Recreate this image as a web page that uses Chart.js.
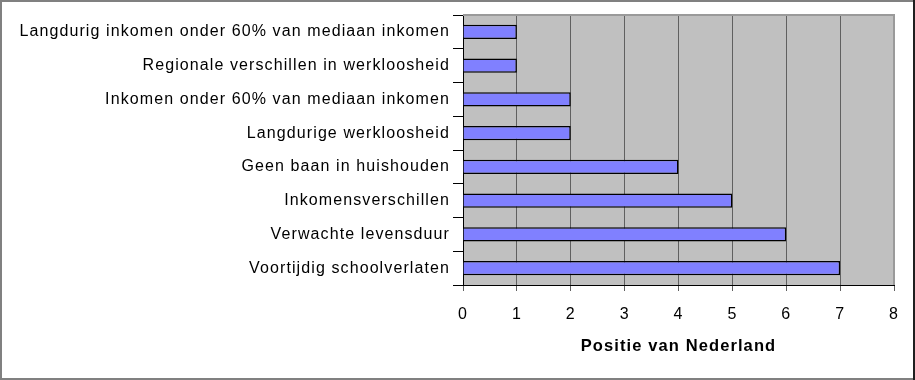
<!DOCTYPE html>
<html><head><meta charset="utf-8">
<script src="https://cdn.jsdelivr.net/npm/chart.js@4"></script>
<style>html,body{margin:0;padding:0;background:#fff}#wrap{width:915px;height:380px;position:relative}</style>
</head><body><div id="wrap"><canvas id="c" width="915" height="380"></canvas></div>
<script>
const categories = [
  "Langdurig inkomen onder 60% van mediaan inkomen",
  "Regionale verschillen in werkloosheid",
  "Inkomen onder 60% van mediaan inkomen",
  "Langdurige werkloosheid",
  "Geen baan in huishouden",
  "Inkomensverschillen",
  "Verwachte levensduur",
  "Voortijdig schoolverlaten"
];
const positions = [1, 1, 2, 2, 4, 5, 6, 7];
const xTicks = [0, 1, 2, 3, 4, 5, 6, 7, 8];
const xTitle = "Positie van Nederland";

const bgPlugin = {
  id: 'bg',
  beforeDraw(chart) {
    const {ctx, chartArea: a} = chart;
    ctx.letterSpacing = '1.1px';
    ctx.save();
    ctx.fillStyle = '#c0c0c0';
    ctx.fillRect(a.left, a.top, a.right - a.left, a.bottom - a.top);
    ctx.restore();
  },
  afterDraw(chart) {
    const {ctx, chartArea: a} = chart;
    ctx.save();
    ctx.strokeStyle = '#9a9a9a';
    ctx.lineWidth = 2;
    ctx.beginPath();
    ctx.moveTo(a.left, a.top); ctx.lineTo(a.right, a.top); ctx.lineTo(a.right, a.bottom);
    ctx.stroke();
    // outer frame
    ctx.strokeStyle = '#808080';
    ctx.lineWidth = 2;
    ctx.beginPath();
    ctx.moveTo(913, 1); ctx.lineTo(1, 1); ctx.lineTo(1, 379); ctx.lineTo(913, 379);
    ctx.stroke();
    ctx.strokeStyle = '#202020';
    ctx.lineWidth = 2;
    ctx.beginPath();
    ctx.moveTo(914, 0); ctx.lineTo(914, 380);
    ctx.stroke();
    ctx.restore();
    ctx.letterSpacing = '0px';
  }
};

new Chart(document.getElementById('c'), {
  type: 'bar',
  data: {
    labels: categories,
    datasets: [{
      data: positions,
      backgroundColor: '#8080ff',
      borderColor: '#000000',
      borderWidth: 1.5,
      barPercentage: 0.42,
      categoryPercentage: 1
    }]
  },
  options: {
    indexAxis: 'y',
    responsive: false,
    animation: false,
    layout: { padding: { top: 15, right: 21, left: 0, bottom: 0 } },
    plugins: { legend: { display: false }, tooltip: { enabled: false } },
    scales: {
      x: {
        min: 0, max: 8,
        afterBuildTicks(s) { s.ticks = xTicks.map(v => ({ value: v })); },
        grid: { color: '#606060', lineWidth: 1, tickLength: 6, drawTicks: true },
        border: { color: '#000', width: 1 },
        ticks: { color: '#000', font: { family: 'Liberation Sans', size: 16 }, padding: 14 },
        title: { display: true, text: xTitle, color: '#000', font: { family: 'Liberation Sans', size: 16.5, weight: 'bold' }, padding: { top: 12, bottom: 24 } },
        afterFit(s) { s.height = 95; }
      },
      y: {
        grid: { drawOnChartArea: false, tickLength: 10, color: '#000', offset: true },
        border: { color: '#000', width: 1 },
        ticks: { color: '#000', font: { family: 'Liberation Sans', size: 16 }, padding: 3 },
        afterFit(s) { s.width = 463; }
      }
    }
  },
  plugins: [bgPlugin]
});
</script>
</body></html>
